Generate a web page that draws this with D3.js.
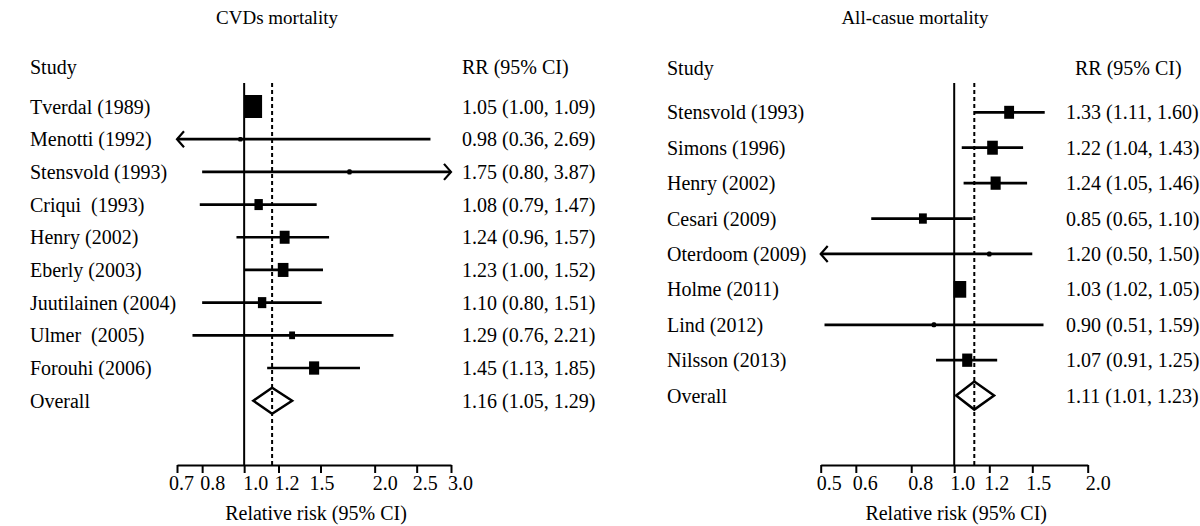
<!DOCTYPE html>
<html><head><meta charset="utf-8">
<script src="https://cdn.jsdelivr.net/npm/d3@7"></script>
<style>
body{margin:0;background:#fff}
svg{display:block;background:#fff}
text{font-family:"Liberation Serif","Times New Roman",serif;fill:#000;white-space:pre}
</style>
</head><body>
<svg id="chart" width="1200" height="526"></svg>
<script>
// ---------- CVDs mortality ----------
const cvdStudies = ["Tverdal (1989)","Menotti (1992)","Stensvold (1993)","Criqui  (1993)","Henry (2002)","Eberly (2003)","Juutilainen (2004)","Ulmer  (2005)","Forouhi (2006)"];
const cvdRR     = [1.05, 0.98, 1.75, 1.08, 1.24, 1.23, 1.10, 1.29, 1.45];
const cvdLower  = [1.00, 0.36, 0.80, 0.79, 0.96, 1.00, 0.80, 0.76, 1.13];
const cvdUpper  = [1.09, 2.69, 3.87, 1.47, 1.57, 1.52, 1.51, 2.21, 1.85];
const cvdWeight = [37.4, 1.1, 1.8, 8.6, 12.0, 13.9, 8.6, 4.2, 12.5];
const cvdOverall = [1.16, 1.05, 1.29];
const cvdTicks  = [0.7, 0.8, 1.0, 1.2, 1.5, 2.0, 2.5, 3.0];

// ---------- All-cause mortality ----------
const allStudies = ["Stensvold (1993)","Simons (1996)","Henry (2002)","Cesari (2009)","Oterdoom (2009)","Holme (2011)","Lind (2012)","Nilsson (2013)"];
const allRR     = [1.33, 1.22, 1.24, 0.85, 1.20, 1.03, 0.90, 1.07];
const allLower  = [1.11, 1.04, 1.05, 0.65, 0.50, 1.02, 0.51, 0.91];
const allUpper  = [1.60, 1.43, 1.46, 1.10, 1.50, 1.05, 1.59, 1.25];
const allWeight = [14.6, 17.0, 15.3, 9.2, 2.2, 24.2, 2.2, 15.3];
const allOverall = [1.11, 1.01, 1.23];
const allTicks  = [0.5, 0.6, 0.8, 1.0, 1.2, 1.5, 2.0];

const svg = d3.select("#chart");
const FS = 20;
const f2 = d3.format(".2f");

function forest(cfg){
  const g = svg.append("g");
  const n = cfg.studies.length;
  const x = d3.scaleLog().domain([cfg.ticks[0], cfg.ticks[cfg.ticks.length-1]]).range(cfg.xRange);
  const y = d3.scaleLinear().domain([0, n]).range(cfg.yRange);
  const size = d3.scaleSqrt().domain([0, d3.max(cfg.weight)]).range([0, cfg.maxBox]);
  const [xmin, xmax] = x.domain();
  const axisY = cfg.axisY, topY = cfg.topY;
  const bh = w => Math.max(size(w), 4.5);
  const bw = w => Math.max(size(w)*cfg.aspect, 4.5);

  // title & headers
  g.append("text").attr("x", cfg.titleX).attr("y", 17).attr("text-anchor","middle")
    .attr("dominant-baseline","central").attr("font-size", cfg.titleFS).text(cfg.title);
  g.append("text").attr("x", cfg.labelX).attr("y", cfg.headY).attr("dominant-baseline","central")
    .attr("font-size", FS).text("Study");
  g.append("text").attr("x", cfg.headRRX).attr("y", cfg.headY).attr("dominant-baseline","central")
    .attr("font-size", FS).text("RR (95% CI)");

  // reference lines
  g.append("line").attr("x1", x(1)).attr("x2", x(1)).attr("y1", topY).attr("y2", axisY)
    .attr("stroke","#000").attr("stroke-width",2);
  g.append("line").attr("x1", x(cfg.overall[0])).attr("x2", x(cfg.overall[0])).attr("y1", topY).attr("y2", axisY)
    .attr("stroke","#000").attr("stroke-width",2).attr("stroke-dasharray","4,3");

  // study rows
  const rows = d3.range(n).map(i => ({
    name: cfg.studies[i], rr: cfg.rr[i], lo: cfg.lower[i], hi: cfg.upper[i], w: cfg.weight[i], i
  }));
  const rg = g.selectAll("g.row").data(rows).join("g").attr("class","row");
  rg.append("line")
    .attr("x1", d => x(Math.max(d.lo, xmin))).attr("x2", d => x(Math.min(d.hi, xmax)))
    .attr("y1", d => y(d.i)).attr("y2", d => y(d.i))
    .attr("stroke","#000").attr("stroke-width",2.7);
  rg.filter(d => d.lo <= xmin).append("path")
    .attr("d", d => `M${x(xmin)+7},${y(d.i)-8} L${x(xmin)},${y(d.i)} L${x(xmin)+7},${y(d.i)+8}`)
    .attr("fill","none").attr("stroke","#000").attr("stroke-width",2.2);
  rg.filter(d => d.hi >= xmax).append("path")
    .attr("d", d => `M${x(xmax)-7},${y(d.i)-8} L${x(xmax)},${y(d.i)} L${x(xmax)-7},${y(d.i)+8}`)
    .attr("fill","none").attr("stroke","#000").attr("stroke-width",2.2);
  rg.append("rect")
    .attr("x", d => x(d.rr) - bw(d.w)/2)
    .attr("y", d => y(d.i) - bh(d.w)/2)
    .attr("width", d => bw(d.w))
    .attr("height", d => bh(d.w))
    .attr("rx", d => size(d.w) < 5.5 ? 1.5 : 0)
    .attr("fill","#000");
  rg.append("text").attr("x", cfg.labelX).attr("y", d => y(d.i)).attr("dominant-baseline","central")
    .attr("font-size", FS).text(d => d.name);
  rg.append("text").attr("x", cfg.rrX).attr("y", d => y(d.i)).attr("dominant-baseline","central")
    .attr("font-size", FS).text(d => `${f2(d.rr)} (${f2(d.lo)}, ${f2(d.hi)})`);

  // overall
  const oy = y(n), [om, ol, oh] = cfg.overall, dh = cfg.diamondH;
  g.append("path")
    .attr("d", `M${x(ol)},${oy} L${x(om)},${oy-dh} L${x(oh)},${oy} L${x(om)},${oy+dh} Z`)
    .attr("fill","none").attr("stroke","#000").attr("stroke-width",2.5).attr("stroke-linejoin","miter");
  g.append("text").attr("x", cfg.labelX).attr("y", oy).attr("dominant-baseline","central")
    .attr("font-size", FS).text("Overall");
  g.append("text").attr("x", cfg.rrX).attr("y", oy).attr("dominant-baseline","central")
    .attr("font-size", FS).text(`${f2(om)} (${f2(ol)}, ${f2(oh)})`);

  // axis
  const ax = g.append("g").attr("transform", `translate(0,${axisY})`)
    .call(d3.axisBottom(x).tickValues(cfg.ticks).tickFormat(d3.format(".1f")).tickSize(8).tickSizeOuter(0).tickPadding(3));
  ax.select(".domain").attr("stroke","#000").attr("stroke-width",2);
  ax.selectAll(".tick line").attr("stroke","#000").attr("stroke-width",2);
  ax.selectAll(".tick text").attr("font-size", FS).attr("font-family",'"Liberation Serif","Times New Roman",serif')
    .attr("fill","#000").attr("dx", (d,i) => cfg.tickDx[i]);
  g.append("text").attr("x", (cfg.xRange[0]+cfg.xRange[1])/2 + 2).attr("y", 513).attr("text-anchor","middle")
    .attr("dominant-baseline","central").attr("font-size", FS).text("Relative risk (95% CI)");
}

forest({
  title: "CVDs mortality", titleX: 277, titleFS: 19,
  studies: cvdStudies, rr: cvdRR, lower: cvdLower, upper: cvdUpper, weight: cvdWeight,
  overall: cvdOverall, ticks: cvdTicks, tickDx: [4, 10, 11, 8, 1, 10, 8, 9],
  xRange: [177, 451], yRange: [106.5, 400.7], axisY: 465, topY: 83,
  labelX: 30, headRRX: 462, rrX: 462, headY: 67, maxBox: 23, aspect: 0.76, diamondH: 13
});
forest({
  title: "All-casue mortality", titleX: 915, titleFS: 19,
  studies: allStudies, rr: allRR, lower: allLower, upper: allUpper, weight: allWeight,
  overall: allOverall, ticks: allTicks, tickDx: [8, 9, 9, 8, 7, 6, 10],
  xRange: [820.7, 1087.7], yRange: [112.3, 395.6], axisY: 465, topY: 83,
  labelX: 667, headRRX: 1075, rrX: 1066, headY: 68, maxBox: 16.7, aspect: 0.76, diamondH: 14
});
</script>
</body></html>
